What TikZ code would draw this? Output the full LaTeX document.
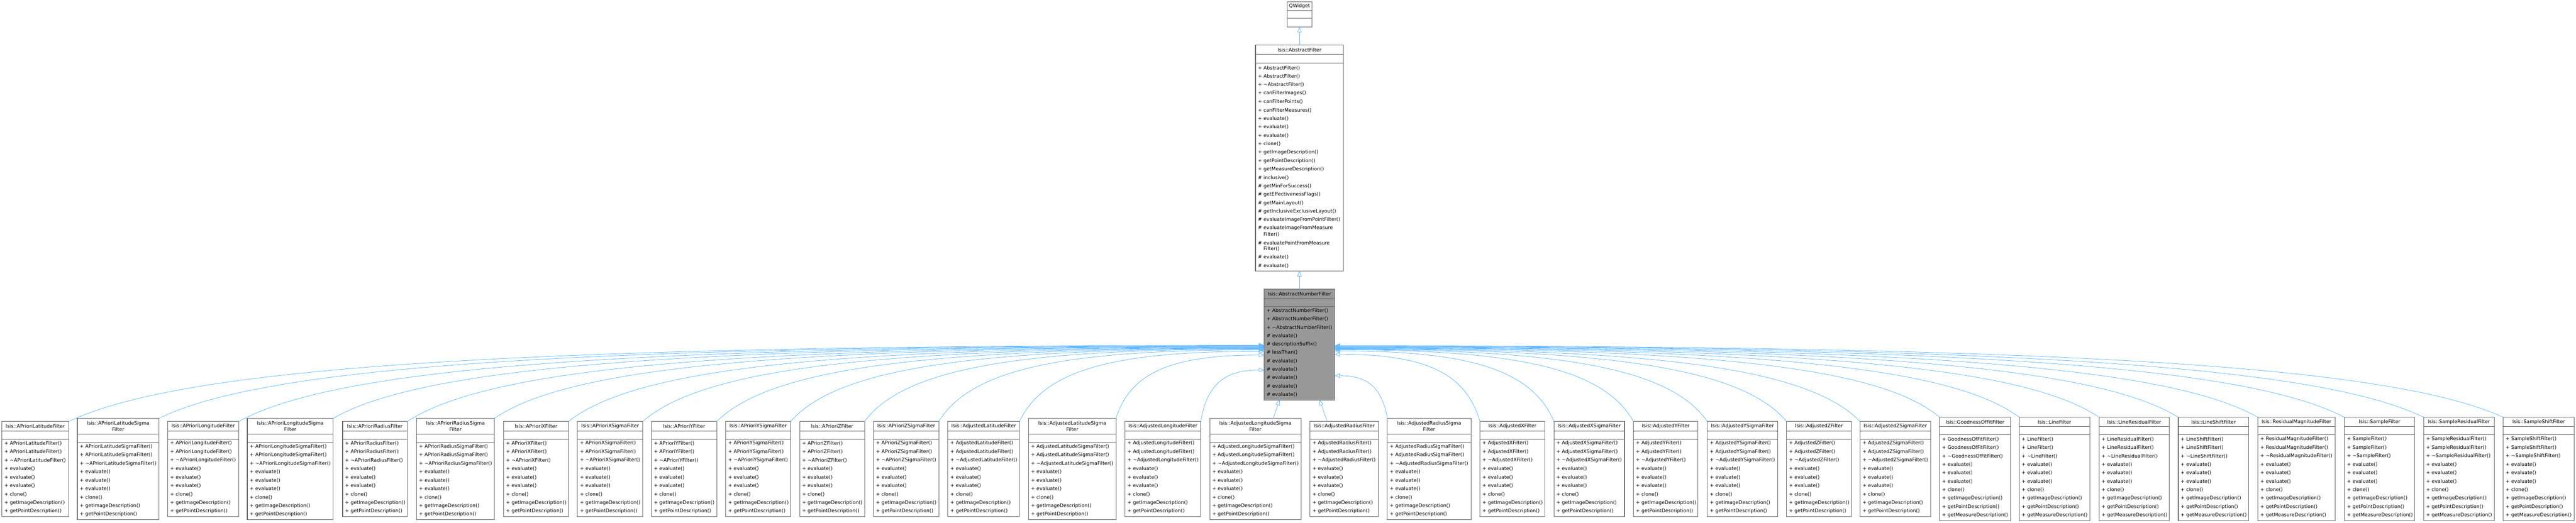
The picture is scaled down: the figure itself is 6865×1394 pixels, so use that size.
\documentclass[tikz,border=0pt]{standalone}
\usepackage{fontspec}
\setmainfont{DejaVu Sans}
\usetikzlibrary{calc,arrows.meta}
\definecolor{bd}{HTML}{666666}
\definecolor{eg}{HTML}{63B8FF}
\newcommand\pp{\makebox[7.5pt][l]{+}}
\newcommand\hh{\makebox[7.5pt][l]{\#}}
\newcommand\ee{\makebox[7.5pt][l]{}}
\newcommand\tl{\textasciitilde}
\tikzset{
 umlbox/.style={draw=bd,fill=white,line width=0.75pt,anchor=north west,inner sep=0pt,outer sep=0pt},
 sep/.style={draw=bd,line width=0.75pt},
 hdr/.style={align=center,inner sep=0pt,font=\fontsize{6.5pt}{8.5pt}\selectfont},
 mth/.style={anchor=west,inner sep=0pt,font=\fontsize{6.5pt}{8pt}\selectfont},
 inh/.style={draw=eg,line width=0.55pt,-{Triangle[open,length=7pt,width=6pt]}},
}
\newcommand\childbox[7]{%
 \pgfmathsetmacro\bh{#5+22+#7*22.6+3}%
 \pgfmathsetmacro\bt{1251-\bh/2}%
 \pgfmathsetmacro\bw{#3-#2}%
 \node[umlbox,minimum width=\bw*0.5pt,minimum height=\bh*0.5pt] (c#1) at (#2,\bt) {};
 \node[hdr] at ($(c#1.north)+(0,#5/2)$) {Isis::#4};
 \draw[sep] (#2,\bt+#5) -- (#3,\bt+#5);
 \draw[sep] (#2,\bt+#5+22) -- (#3,\bt+#5+22);
 \ifnum#7=10
 \def\mlist{\pp #6(),\pp #6(),\pp\tl#6(),\pp evaluate(),\pp evaluate(),\pp evaluate(),\pp clone(),\pp getImageDescription(),\pp getPointDescription(),\pp getMeasureDescription()}%
 \else
 \def\mlist{\pp #6(),\pp #6(),\pp\tl#6(),\pp evaluate(),\pp evaluate(),\pp evaluate(),\pp clone(),\pp getImageDescription(),\pp getPointDescription()}%
 \fi
 \foreach \m [count=\k from 0] in \mlist {\node[mth] at (#2+6,\bt+#5+22+11.3+\k*22.6) {\m};}
}
\begin{document}
\begin{tikzpicture}[x=0.5pt,y=-0.5pt]
\useasboundingbox (0,0) rectangle (6865,1394);
% QWidget
\node[umlbox,minimum width=33pt,minimum height=33.5pt] (qw) at (3430,5) {};
\node[hdr] at (3463,16.5) {QWidget};
\draw[sep] (3430,28) -- (3496,28);
\draw[sep] (3430,49) -- (3496,49);
% AbstractFilter
\node[umlbox,minimum width=117pt,minimum height=301.5pt] (af) at (3346,120) {};
\node[hdr] at (3463,132.5) {Isis::AbstractFilter};
\draw[sep] (3346,145) -- (3580,145);
\draw[sep] (3346,168) -- (3580,168);
\foreach \t [count=\k from 0] in {\pp AbstractFilter(),\pp AbstractFilter(),\pp\tl AbstractFilter(),\pp canFilterImages(),\pp canFilterPoints(),\pp canFilterMeasures(),\pp evaluate(),\pp evaluate(),\pp evaluate(),\pp clone(),\pp getImageDescription(),\pp getPointDescription(),\pp getMeasureDescription(),\hh inclusive(),\hh getMinForSuccess(),\hh getEffectivenessFlags(),\hh getMainLayout(),\hh getInclusiveExclusiveLayout(),\hh evaluateImageFromPointFilter()}
 {\node[mth] at (3352,181.5+\k*22.5) {\t};}
\foreach \yy/\t in {608.5/\hh evaluateImageFromMeasure,625/\ee Filter(),648/\hh evaluatePointFromMeasure,664/\ee Filter(),686/\hh evaluate(),709/\hh evaluate()}
 {\node[mth] at (3352,\yy) {\t};}
% AbstractNumberFilter
\node[umlbox,fill=black!40,minimum width=94pt,minimum height=148pt] (anf) at (3369,771) {};
\node[hdr] at (3463,783.5) {Isis::AbstractNumberFilter};
\draw[sep] (3369,796) -- (3557,796);
\draw[sep] (3369,818) -- (3557,818);
\foreach \t [count=\k from 0] in {\pp AbstractNumberFilter(),\pp AbstractNumberFilter(),\pp\tl AbstractNumberFilter(),\hh evaluate(),\hh descriptionSuffix(),\hh lessThan(),\hh evaluate(),\hh evaluate(),\hh evaluate(),\hh evaluate(),\hh evaluate()}
 {\node[mth] at (3375,828.5+\k*22.4) {\t};}
\draw[inh] (af.north) -- (qw.south);
\draw[inh] (anf.north) -- (af.south);
% children
\childbox{1}{5}{183}{APrioriLatitudeFilter}{25}{APrioriLatitudeFilter}{9}
\childbox{2}{206}{424}{APrioriLatitudeSigma\\Filter}{42}{APrioriLatitudeSigmaFilter}{9}
\childbox{3}{447}{636}{APrioriLongitudeFilter}{25}{APrioriLongitudeFilter}{9}
\childbox{4}{659}{888}{APrioriLongitudeSigma\\Filter}{42}{APrioriLongitudeSigmaFilter}{9}
\childbox{5}{913}{1085}{APrioriRadiusFilter}{25}{APrioriRadiusFilter}{9}
\childbox{6}{1110}{1318}{APrioriRadiusSigma\\Filter}{42}{APrioriRadiusSigmaFilter}{9}
\childbox{7}{1342}{1515}{APrioriXFilter}{25}{APrioriXFilter}{9}
\childbox{8}{1539}{1713}{APrioriXSigmaFilter}{25}{APrioriXSigmaFilter}{9}
\childbox{9}{1736}{1910}{APrioriYFilter}{25}{APrioriYFilter}{9}
\childbox{10}{1934}{2107}{APrioriYSigmaFilter}{25}{APrioriYSigmaFilter}{9}
\childbox{11}{2131}{2304}{APrioriZFilter}{25}{APrioriZFilter}{9}
\childbox{12}{2328}{2502}{APrioriZSigmaFilter}{25}{APrioriZSigmaFilter}{9}
\childbox{13}{2526}{2717}{AdjustedLatitudeFilter}{25}{AdjustedLatitudeFilter}{9}
\childbox{14}{2741}{2974}{AdjustedLatitudeSigma\\Filter}{42}{AdjustedLatitudeSigmaFilter}{9}
\childbox{15}{2998}{3200}{AdjustedLongitudeFilter}{25}{AdjustedLongitudeFilter}{9}
\childbox{16}{3224}{3467}{AdjustedLongitudeSigma\\Filter}{42}{AdjustedLongitudeSigmaFilter}{9}
\childbox{17}{3491}{3673}{AdjustedRadiusFilter}{25}{AdjustedRadiusFilter}{9}
\childbox{18}{3697}{3920}{AdjustedRadiusSigma\\Filter}{42}{AdjustedRadiusSigmaFilter}{9}
\childbox{19}{3944}{4117}{AdjustedXFilter}{25}{AdjustedXFilter}{9}
\childbox{20}{4141}{4329}{AdjustedXSigmaFilter}{25}{AdjustedXSigmaFilter}{9}
\childbox{21}{4353}{4525}{AdjustedYFilter}{25}{AdjustedYFilter}{9}
\childbox{22}{4550}{4737}{AdjustedYSigmaFilter}{25}{AdjustedYSigmaFilter}{9}
\childbox{23}{4761}{4934}{AdjustedZFilter}{25}{AdjustedZFilter}{9}
\childbox{24}{4957}{5145}{AdjustedZSigmaFilter}{25}{AdjustedZSigmaFilter}{9}
\childbox{25}{5169}{5358}{GoodnessOfFitFilter}{25}{GoodnessOfFitFilter}{10}
\childbox{26}{5381}{5569}{LineFilter}{25}{LineFilter}{10}
\childbox{27}{5594}{5781}{LineResidualFilter}{25}{LineResidualFilter}{10}
\childbox{28}{5805}{5993}{LineShiftFilter}{25}{LineShiftFilter}{10}
\childbox{29}{6017}{6223}{ResidualMagnitudeFilter}{25}{ResidualMagnitudeFilter}{10}
\childbox{30}{6248}{6435}{SampleFilter}{25}{SampleFilter}{10}
\childbox{31}{6459}{6647}{SampleResidualFilter}{25}{SampleResidualFilter}{10}
\childbox{32}{6671}{6860}{SampleShiftFilter}{25}{SampleShiftFilter}{10}
% edges
\foreach \i/\ey in {1/921,2/922,3/923,4/924,5/925,6/926,7/927,8/928,9/929,10/930,11/931,12/933,13/937,14/947,15/987}{
 \draw[inh] let \p1=(c\i.north east), \p2=($(anf.north west)+(0,\ey-771)$) in
 (\p1) .. controls +({0.1*(\x2-\x1)},{0.75*(\y2-\y1)}) and +({-0.6*(\x2-\x1)},0pt) .. (\p2);
}
\foreach \i/\ey in {18/1002,19/945,20/936,21/933,22/932,23/931,24/930,25/929,26/928,27/927,28/926,29/925,30/924,31/923,32/922}{
 \draw[inh] let \p1=(c\i.north west), \p2=($(anf.north east)+(0,\ey-771)$) in
 (\p1) .. controls +({0.1*(\x2-\x1)},{0.75*(\y2-\y1)}) and +({-0.6*(\x2-\x1)},0pt) .. (\p2);
}
\draw[inh] ($(c16.north west)+(169,0)$) -- ($(anf.south west)+(41,0)$);
\draw[inh] ($(c17.north west)+(46,0)$) -- ($(anf.south west)+(148,0)$);
\end{tikzpicture}
\end{document}
